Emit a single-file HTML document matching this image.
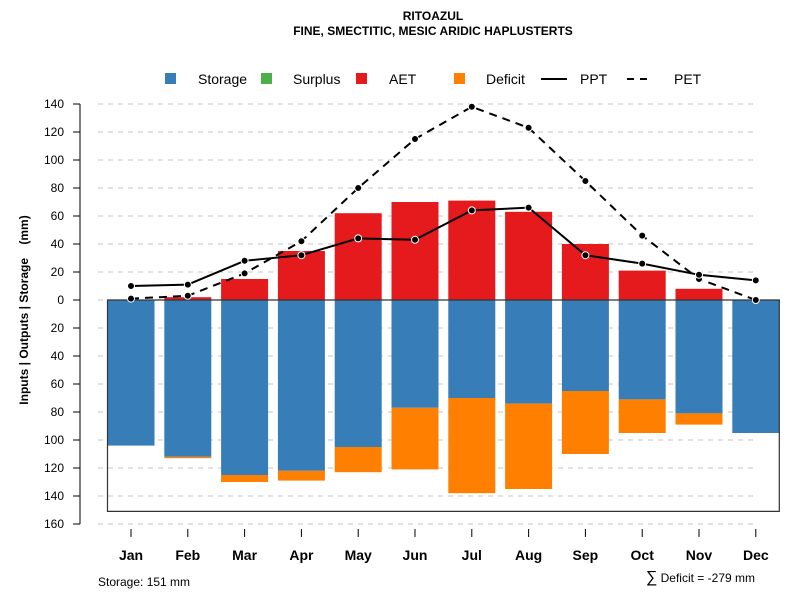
<!DOCTYPE html>
<html><head><meta charset="utf-8"><style>
body{margin:0;background:#fff;}
svg{font-family:"Liberation Sans",Arial,sans-serif;}
</style></head><body>
<svg id="chart" width="800" height="600" viewBox="0 0 800 600">
<text x="433" y="20" font-size="12" font-weight="bold" text-anchor="middle">RITOAZUL</text>
<text x="433" y="35" font-size="12" font-weight="bold" text-anchor="middle">FINE, SMECTITIC, MESIC ARIDIC HAPLUSTERTS</text>
<g id="grid"></g>
<g id="bars"></g>
<g id="lines"></g>
<g id="axes"></g>
<g font-size="14">
<rect x="165" y="73" width="11" height="11" fill="#377eb8"/>
<text x="198" y="84">Storage</text>
<rect x="261" y="73" width="11" height="11" fill="#4daf4a"/>
<text x="293" y="84">Surplus</text>
<rect x="356" y="73" width="11" height="11" fill="#e41a1c"/>
<text x="389" y="84">AET</text>
<rect x="454" y="73" width="11" height="11" fill="#ff7f00"/>
<text x="486" y="84">Deficit</text>
<line x1="541" y1="79" x2="567" y2="79" stroke="#000" stroke-width="2"/>
<text x="580" y="84">PPT</text>
<line x1="627" y1="79" x2="653" y2="79" stroke="#000" stroke-width="2" stroke-dasharray="7,6"/>
<text x="674" y="84">PET</text>
</g>
<text transform="translate(28,310) rotate(-90)" font-size="12" font-weight="bold" text-anchor="middle">Inputs | Outputs | Storage&#160;&#160;&#160;&#160;(mm)</text>
<text x="98" y="586" font-size="12">Storage: 151 mm</text>
<text x="755" y="582" font-size="12" text-anchor="end"><tspan font-size="16">∑</tspan> Deficit = -279 mm</text>
</svg>
<script>
const months=["Jan","Feb","Mar","Apr","May","Jun","Jul","Aug","Sep","Oct","Nov","Dec"];
const aet=[0,2,15,35,62,70,71,63,40,21,8,0];
const storage=[104,112,125,122,105,77,70,74,65,71,81,95];
const deficit=[0,1,5,7,18,44,68,61,45,24,8,0];
const ppt=[10,11,28,32,44,43,64,66,32,26,18,14];
const pet=[1,3,19,42,80,115,138,123,85,46,15,0];
const yTicks=[140,120,100,80,60,40,20,0,20,40,60,80,100,120,140,160];
const yVals=[140,120,100,80,60,40,20,0,-20,-40,-60,-80,-100,-120,-140,-160];
const storageMax=151;
const NS="http://www.w3.org/2000/svg";
const y=v=>300-v*1.4;
const x=i=>131+i*56.8;
const bw=47;
function mk(tag,attrs,parent){const e=document.createElementNS(NS,tag);for(const k in attrs)e.setAttribute(k,attrs[k]);document.getElementById(parent).appendChild(e);return e;}
yVals.forEach((v,i)=>{
 const g=mk('line',{x1:98,x2:756,y1:y(v),y2:y(v),stroke:'#c4c4c4','stroke-dasharray':'5,5'},'grid');
 
 
 const t=mk('line',{x1:73,x2:80,y1:y(v),y2:y(v),stroke:'#000'},'axes');
 
 
 const l=mk('text',{x:64,y:y(v)+4,'font-size':12,'text-anchor':'end'},'axes');
 l.textContent=yTicks[i];
 
 
});
const ax=mk('line',{x1:80,x2:80,y1:y(140),y2:y(-160),stroke:'#000'},'axes');


months.forEach((m,i)=>{
 const cx=x(i);
 const a=mk('rect',{x:cx-bw/2,y:y(aet[i]),width:bw,height:aet[i]*1.4,fill:'#e41a1c'},'bars');
 
 
 const s=mk('rect',{x:cx-bw/2,y:300,width:bw,height:storage[i]*1.4,fill:'#377eb8'},'bars');
 
 
 const d=mk('rect',{x:cx-bw/2,y:y(-storage[i]),width:bw,height:deficit[i]*1.4,fill:'#ff7f00'},'bars');
 
 
 const t=mk('line',{x1:cx,x2:cx,y1:529,y2:537,stroke:'#000'},'axes');
 
 
 const l=mk('text',{x:cx,y:560,'font-size':14,'font-weight':'bold','text-anchor':'middle'},'axes');
 l.textContent=m;
 
 
});
const box=mk('path',{d:`M${x(0)-bw/2},300 V${y(-storageMax)} H${x(11)+bw/2} V300 Z`,fill:'none',stroke:'#333','stroke-width':1.2},'bars');


function series(vals,name,dash){
 const p=mk('polyline',{points:vals.map((v,i)=>x(i)+','+y(v)).join(' '),fill:'none',stroke:'#000','stroke-width':2,'stroke-dasharray':dash},'lines');
 
 
 vals.forEach((v,i)=>{
  const c=mk('circle',{cx:x(i),cy:y(v),r:3.5,fill:'#000',stroke:'#fff','stroke-width':1},'lines');
  
  
 });
}
series(pet,'pet','8,6');
series(ppt,'ppt','none');
</script>
</body></html>
